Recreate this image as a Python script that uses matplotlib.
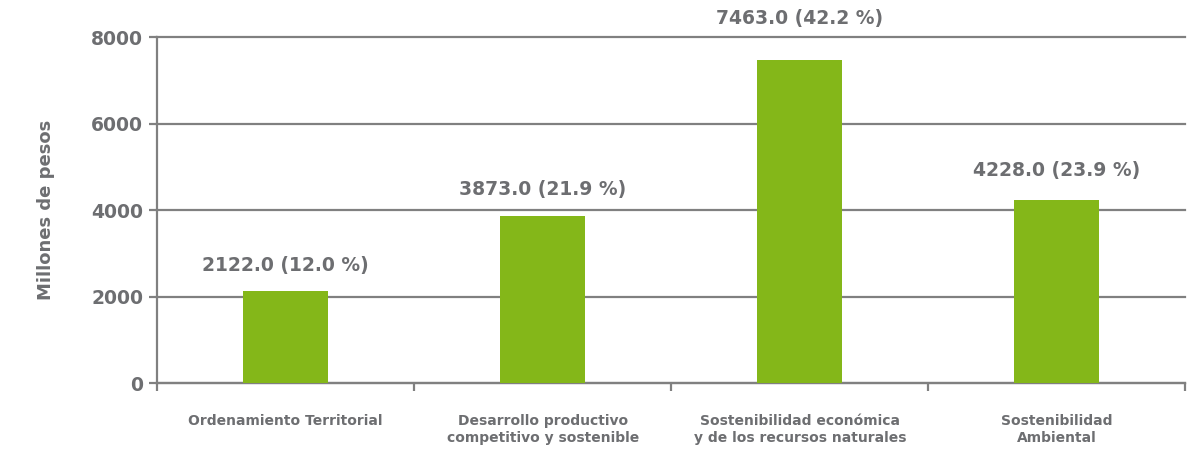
import matplotlib
matplotlib.use("Agg")
import matplotlib.pyplot as plt
import numpy as np

# data
categories = ["Ordenamiento Territorial",
              "Desarrollo productivo\ncompetitivo y sostenible",
              "Sostenibilidad económica\ny de los recursos naturales",
              "Sostenibilidad\nAmbiental"]
values = [2122.0, 3873.0, 7463.0, 4228.0]
shares = [12.0, 21.9, 42.2, 23.9]
yticks = [0, 2000, 4000, 6000, 8000]

txt_col = "#6d6e71"
line_col = "#808080"
bar_col = "#84b719"

fig = plt.figure(figsize=(11.89, 4.53), dpi=100)
ax = fig.add_axes([0.132, 0.1545, 0.865, 0.7635])

x = np.arange(len(categories))
bars = ax.bar(x, values, width=0.33, color=bar_col, zorder=3)

ax.set_xlim(-0.5, len(categories) - 0.5)
ax.set_ylim(0, 8000)
ax.set_yticks(yticks)
ax.set_yticklabels([str(t) for t in yticks], fontsize=13.5, fontweight="bold", color=txt_col)
ax.yaxis.grid(True, color=line_col, linewidth=1.6, zorder=0)
for gl in ax.yaxis.get_gridlines():
    gl.set_clip_on(False)
ax.tick_params(axis="y", length=6, width=1.6, color=line_col, pad=4)

# category labels centred, tick marks between categories
ax.set_xticks(x)
ax.set_xticklabels(categories, fontsize=10, fontweight="bold", color=txt_col,
                   linespacing=1.35)
ax.tick_params(axis="x", length=0, pad=22)
ax.set_xticks(np.arange(len(categories) + 1) - 0.5, minor=True)
ax.tick_params(axis="x", which="minor", length=6, width=1.6, color=line_col)

for side in ["top", "right"]:
    ax.spines[side].set_visible(False)
ax.spines["left"].set_color(line_col)
ax.spines["left"].set_linewidth(1.6)
ax.spines["bottom"].set_color(line_col)
ax.spines["bottom"].set_linewidth(1.6)

ax.set_ylabel("Millones de pesos", fontsize=13, fontweight="bold", color=txt_col, labelpad=26)

# value labels above bars
offsets = [16, 17, 32, 20]
for b, v, s, off in zip(bars, values, shares, offsets):
    ax.annotate(f"{v:.1f} ({s:.1f} %)", (b.get_x() + b.get_width() / 2, b.get_height()),
                xytext=(0, off * 0.72), textcoords="offset points",
                ha="center", va="bottom", fontsize=13.5, fontweight="bold",
                color=txt_col, annotation_clip=False)

fig.savefig("out.png", dpi=100)
